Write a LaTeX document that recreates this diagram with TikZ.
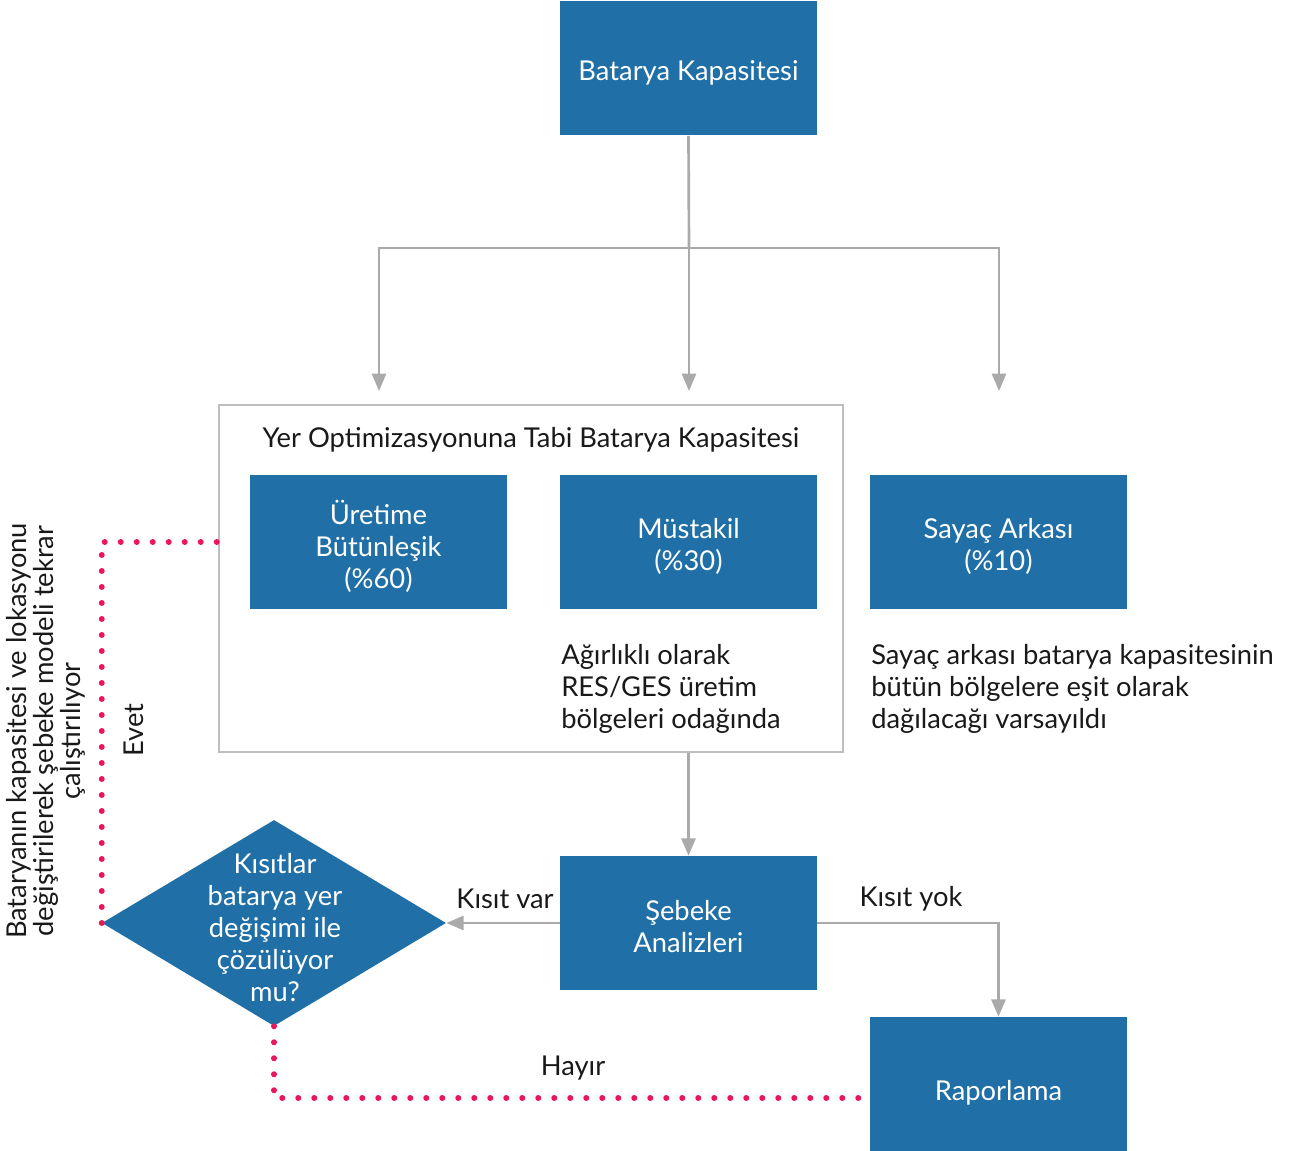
\documentclass[tikz,border=0pt]{standalone}
\usepackage{fontspec}
\setmainfont{Lato}
\usetikzlibrary{arrows.meta,shapes.geometric}
\definecolor{boxblue}{RGB}{32,111,166}
\definecolor{linegray}{RGB}{170,170,170}
\definecolor{framegray}{RGB}{190,190,190}
\definecolor{dotpink}{RGB}{234,22,90}
\definecolor{txt}{RGB}{25,25,25}
\tikzset{
  bluebox/.style={fill=boxblue, minimum width=192.75pt, minimum height=100.5pt, inner sep=0pt},
  boxtext/.style={text=white, align=center, inner sep=0pt, yshift=-3pt, font=\fontsize{20.5}{24}\selectfont},
  btext/.style={label={[boxtext]center:#1}},
  conn/.style={draw=linegray, line width=2pt, -{Triangle[width=10.5pt,length=13pt]}},
  plainconn/.style={draw=linegray, line width=2pt},
  dots/.style={draw=dotpink, line width=4.5pt, line cap=round, dash pattern=on 0pt off 12pt},
  lbl/.style={text=txt, font=\fontsize{20.5}{24}\selectfont, inner sep=0pt},
}
\begin{document}
\begin{tikzpicture}[x=0.75pt,y=-0.75pt]
\useasboundingbox (0,0) rectangle (1297,1151);
% frame
\node[draw=framegray, line width=1.1pt, minimum width=468pt, minimum height=260.25pt, inner sep=0pt] (frame) at (531,578.5) {};
\node[lbl] (ftitle) at (531,440) {Yer Optimizasyonuna Tabi Batarya Kapasitesi};
% boxes
\node[bluebox, btext={Batarya Kapasitesi}] (bk) at (688.5,68.5) {};
\node[bluebox, btext={Üretime\\Bütünleşik\\(\%60)}] (ur) at (378.5,542) {};
\node[bluebox, btext={Müstakil\\(\%30)}] (mu) at (688.5,542) {};
\node[bluebox, btext={Sayaç Arkası\\(\%10)}] (sa) at (998.5,542) {};
\node[bluebox, btext={Şebeke\\Analizleri}] (seb) at (688.5,923) {};
\node[bluebox, minimum height=108pt, btext={Raporlama}] (rap) at (998.5,1089) {};
% diamond
\node[diamond, fill=boxblue, minimum width=258pt, minimum height=154.5pt, inner sep=0pt] (dia) at (274,923) {};
\node[lbl, text=white, align=center] (diatext) at (275,928) {Kısıtlar\\batarya yer\\değişimi ile\\çözülüyor\\mu?};
% notes
\node[lbl, align=left, anchor=west] (note1) at (561,689) {Ağırlıklı olarak\\RES/GES üretim\\bölgeleri odağında};
\node[lbl, align=left, anchor=west] (note2) at (871,689) {Sayaç arkası batarya kapasitesinin\\bütün bölgelere eşit olarak\\dağılacağı varsayıldı};
% top tree
\coordinate (j) at (689,248);
\coordinate (a1) at (379,391);
\coordinate (a2) at (689,391);
\coordinate (a3) at (999,391);
\draw[plainconn] (bk.south) -- (j);
\draw[conn] (j) -| (a1);
\draw[conn] (j) -- (a2);
\draw[conn] (j) -| (a3);
% flow
\draw[conn] (seb.north |- frame.south) -- (seb.north);
\draw[conn] (seb.west) -- (dia.east);
\node[lbl] (kvar) at (505,899) {Kısıt var};
\draw[conn] (seb.east) -| (rap.north);
\node[lbl] (kyok) at (911,899) {Kısıt yok};
% dotted
\coordinate (hayirEnd) at (870,1098);
\coordinate (evetEnd) at (219,542);
\draw[dots] (dia.south) |- (hayirEnd);
\draw[dots] (dia.west) |- (evetEnd);
\node[lbl] (hayir) at (573,1068) {Hayır};
\node[lbl, rotate=90] (evet) at (134,730) {Evet};
\node[lbl, rotate=90, align=center, font=\fontsize{20.5}{20.5}\selectfont] (side) at (46,731) {Bataryanın kapasitesi ve lokasyonu\\değiştirilerek şebeke modeli tekrar\\çalıştırılıyor};
\end{tikzpicture}
\end{document}
